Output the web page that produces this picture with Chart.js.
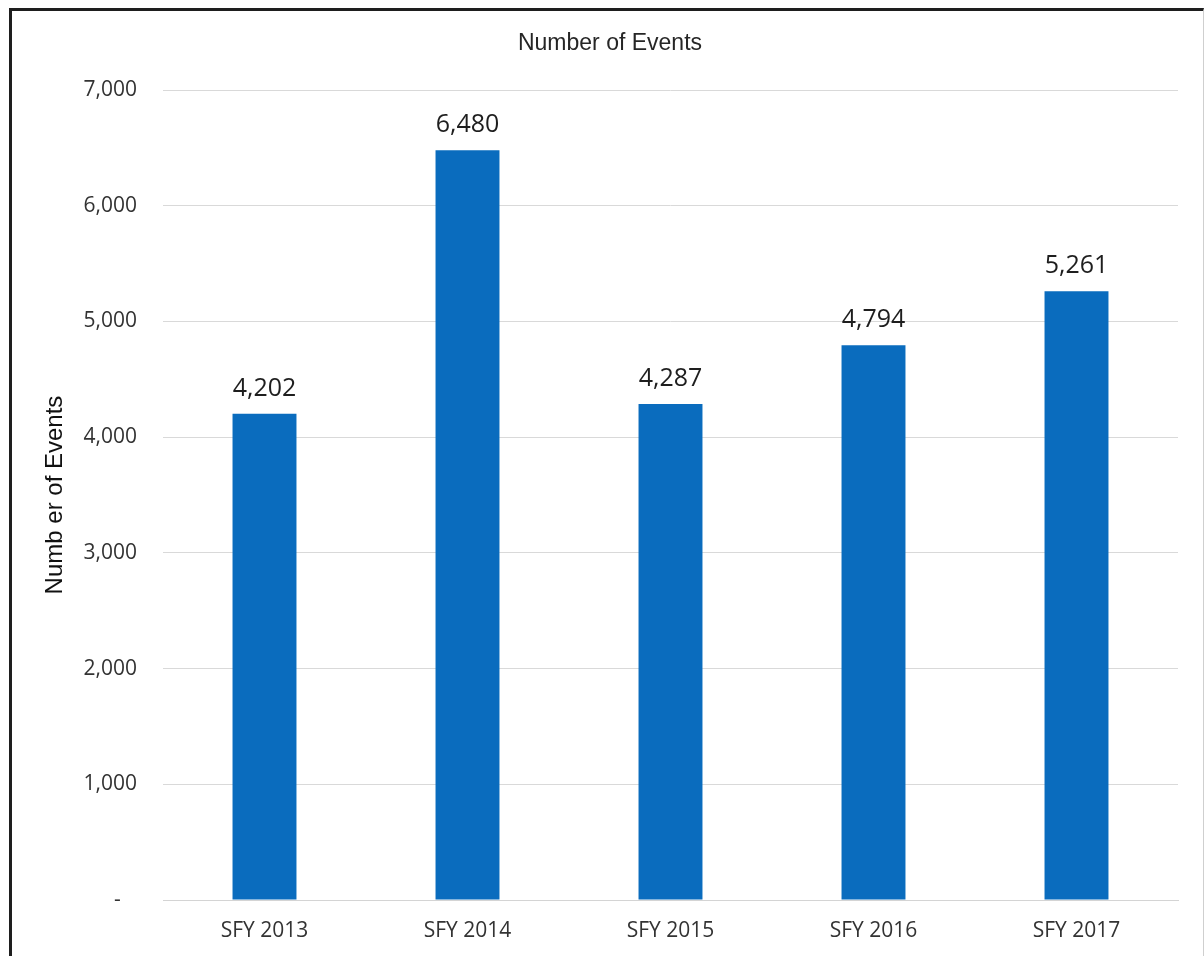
<!DOCTYPE html>
<html>
<head>
<meta charset="utf-8">
<script src="https://cdn.jsdelivr.net/npm/chart.js@4.4.1/dist/chart.umd.min.js"></script>
<style>
  html, body { margin: 0; padding: 0; background: #fff; }
  #wrap { position: relative; width: 1204px; height: 956px; }
  #frame {
    position: absolute; left: 9px; top: 8px; width: 1191px; height: 960px;
    border-top: 3px solid #1e1e1e; border-left: 3px solid #1e1e1e; border-right: 1px solid #cfcfcf;
    pointer-events: none;
  }
</style>
</head>
<body>
<div id="wrap">
  <canvas id="chart" width="1204" height="956"></canvas>
  <div id="frame"></div>
</div>
<script>
// Chart data
const categories = ['SFY 2013', 'SFY 2014', 'SFY 2015', 'SFY 2016', 'SFY 2017'];
const eventCounts = [4202, 6480, 4287, 4794, 5261];
const yTicks = [0, 1000, 2000, 3000, 4000, 5000, 6000, 7000];

const chartTitle = 'Number of Events';
const yAxisTitle = 'Numb er of Events';

const fmt = (v) => v.toLocaleString('en-US');

// draws the chart title and the value labels above each bar
const labelsPlugin = {
    id: 'labelsPlugin',
    afterDatasetsDraw(chart) {
        const ctx = chart.ctx;
        ctx.save();
        ctx.fillStyle = '#1e1e1e';
        ctx.font = '25px "Open Sans"';
        ctx.textAlign = 'center';
        ctx.textBaseline = 'alphabetic';
        chart.getDatasetMeta(0).data.forEach((bar, i) => {
            ctx.fillText(fmt(eventCounts[i]), bar.x, bar.y - 18);
        });

        ctx.font = '23px "Liberation Sans", Arial';
        ctx.fillStyle = '#262626';
        ctx.textBaseline = 'middle';
        ctx.fillText(chartTitle, 610, 44);
        ctx.restore();
    }
};

new Chart(document.getElementById('chart'), {
    type: 'bar',
    data: {
        labels: categories,
        datasets: [{
            data: eventCounts,
            backgroundColor: '#0a6cbe',
            borderWidth: 0,
            barPercentage: 0.315,
            categoryPercentage: 1
        }]
    },
    options: {
        responsive: false,
        animation: false,
        layout: { padding: { top: 90, right: 26, left: 0, bottom: 0 } },
        plugins: {
            legend: { display: false },
            tooltip: { enabled: false },
            title: { display: false }
        },
        scales: {
            x: {
                grid: { display: false, drawTicks: false },
                border: { display: true, color: '#d4d4d4', width: 1 },
                ticks: {
                    color: '#333',
                    font: { family: 'Open Sans', size: 21 },
                    padding: 18,
                    maxRotation: 0
                },
                afterFit(scale) { scale.height = 56; }
            },
            y: {
                min: 0,
                max: 7000,
                afterBuildTicks(scale) {
                    scale.ticks = yTicks.map(v => ({ value: v }));
                },
                grid: { color: '#d9d9d9', lineWidth: 1, drawTicks: false },
                border: { display: false },
                ticks: {
                    color: '#333',
                    font: { family: 'Open Sans', size: 21 },
                    padding: 26,
                    callback: (v) => v === 0 ? '-   ' : fmt(v)
                },
                title: {
                    display: true,
                    text: yAxisTitle,
                    color: '#111',
                    font: { family: 'Liberation Sans', size: 24 },
                    padding: { top: 41, bottom: 0 }
                },
                afterFit(scale) { scale.width = 163; }
            }
        }
    },
    plugins: [labelsPlugin]
});
</script>
</body>
</html>
